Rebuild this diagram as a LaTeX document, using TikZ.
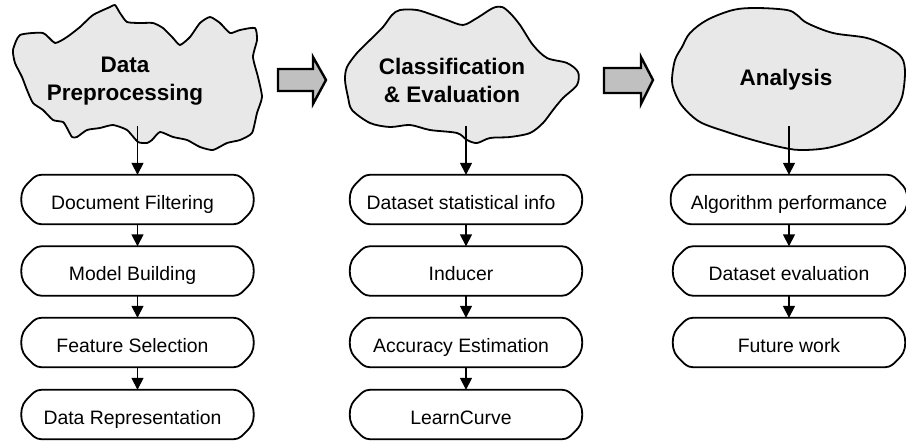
\documentclass[tikz,border=0pt]{standalone}
\usepackage{fontspec}
\setmainfont{Liberation Sans}
\usetikzlibrary{arrows.meta,calc}

\definecolor{blobgray}{HTML}{E8E8E8}
\definecolor{arrowgray}{HTML}{C0C0C0}

\tikzset{
  blob/.style={draw=black, line width=1.8pt, fill=blobgray, line join=round},
  title/.style={font=\fontsize{22.5}{28}\selectfont\bfseries, align=center, inner sep=0pt},
  stepbox/.style={font=\fontsize{19.4}{23}\selectfont, minimum width=192pt, minimum height=49pt,
    inner sep=0pt, text height=19pt, text depth=0pt},
  lefttext/.style={execute at begin node={\hspace*{-10pt}}},
  boxline/.style={draw=black, line width=1.8pt, line join=round},
  flow/.style={line width=1.6pt, -{Triangle[width=12pt,length=12pt]}},
  bigarrow/.style={draw=black, line width=2.4pt, fill=arrowgray, line join=miter},
}

% outline of a step box: straight top and bottom, bevelled bulging ends
\newcommand\boxoutline[1]{%
  \draw[boxline] (#1.north west) -- (#1.north east)
    .. controls ($(#1.north east)+(6,0)$) and ($(#1.north east)+(9,4)$) .. ($(#1.north east)+(13,8)$)
    .. controls ($(#1.north east)+(17,12)$) and ($(#1.east)+(20,-9)$) .. ($(#1.east)+(20,0)$)
    .. controls ($(#1.east)+(20,9)$) and ($(#1.south east)+(17,-12)$) .. ($(#1.south east)+(13,-8)$)
    .. controls ($(#1.south east)+(9,-4)$) and ($(#1.south east)+(6,0)$) .. (#1.south east)
    -- (#1.south west)
    .. controls ($(#1.south west)+(-6,0)$) and ($(#1.south west)+(-9,-4)$) .. ($(#1.south west)+(-13,-8)$)
    .. controls ($(#1.south west)+(-17,-12)$) and ($(#1.west)+(-20,9)$) .. ($(#1.west)+(-20,0)$)
    .. controls ($(#1.west)+(-20,-9)$) and ($(#1.north west)+(-17,12)$) .. ($(#1.north west)+(-13,8)$)
    .. controls ($(#1.north west)+(-9,4)$) and ($(#1.north west)+(-6,0)$) .. cycle;}

\begin{document}
\begin{tikzpicture}[x=1pt,y=-1pt]
\useasboundingbox (0,0) rectangle (906,442);

% --- stage blobs ---
\draw[blob] plot[smooth cycle, tension=0.35] coordinates {
  (13,50) (20,35) (43,33) (55,43) (67,37) (80,27) (93,15) (110,7) (115,5)
  (120,13) (127,22) (140,23) (153,23) (163,28) (173,38) (180,45) (190,37)
  (200,23) (210,17) (220,23) (230,33) (240,30) (255,28) (257,40) (253,57)
  (258,77) (262,97) (257,113) (252,133) (240,140) (227,143) (213,150)
  (200,147) (187,140) (173,137) (160,132) (152,140) (147,143) (138,142)
  (127,130) (113,125) (100,128) (87,130) (77,137) (72,137) (67,128)
  (63,122) (53,120) (43,110) (33,103) (27,90) (22,77) (15,63)};

\draw[blob] plot[smooth cycle, tension=0.5] coordinates {
  (400,10) (417,10) (433,15) (447,20) (463,25) (477,18) (493,8) (502,7)
  (510,13) (520,25) (533,45) (547,58) (567,63) (578,72) (577,85) (563,98)
  (553,110) (543,123) (530,133) (510,137) (490,138) (477,143) (467,140)
  (457,133) (430,130) (410,125) (390,127) (370,123) (352,110) (348,97)
  (345,80) (347,67) (357,53) (370,40) (383,27) (392,15)};

\draw[blob] plot[smooth cycle, tension=0.55] coordinates {
  (690,33) (707,20) (733,10) (757,8) (787,10) (797,15) (807,23) (833,33)
  (867,38) (890,48) (902,58) (905,73) (902,97) (893,113) (877,127)
  (853,140) (827,148) (800,150) (780,147) (753,140) (727,132) (700,122)
  (683,107) (675,93) (672,80) (675,60) (682,47)};

\node[title] (tA) at (125,81) {Data\\Preprocessing};
\node[title] (tB) at (452,80) {Classification\\\& Evaluation};
\node[title] (tC) at (786,80) {Analysis};

% --- block arrows between stages ---
\draw[bigarrow] (278,69) -- (313,69) -- (313,57) -- (326,80) -- (313,104)
  -- (313,91) -- (278,91) -- cycle;
\draw[bigarrow] (604,68) -- (641,68) -- (641,57) -- (653,80) -- (641,104)
  -- (641,93) -- (604,93) -- cycle;

% --- step boxes ---
\node[stepbox,lefttext] (a1) at (137.5,199.5) {Document Filtering};
\node[stepbox,lefttext] (a2) at (137.5,271)   {Model Building};
\node[stepbox,lefttext] (a3) at (137.5,342.5) {Feature Selection};
\node[stepbox,lefttext] (a4) at (137.5,414.5) {Data Representation};

\node[stepbox,lefttext] (b1) at (466,199.5) {Dataset statistical info};
\node[stepbox,lefttext] (b2) at (466,271)   {Inducer};
\node[stepbox,lefttext] (b3) at (466,342.5) {Accuracy Estimation};
\node[stepbox,lefttext] (b4) at (466,414.5) {LearnCurve};

\node[stepbox] (c1) at (789,199.5) {Algorithm performance};
\node[stepbox] (c2) at (789,271)   {Dataset evaluation};
\node[stepbox] (c3) at (789,342.5) {Future work};

\foreach \n in {a1,a2,a3,a4,b1,b2,b3,b4,c1,c2,c3} {\boxoutline{\n}}

% --- connectors ---
\coordinate (oA) at (137.5,126);
\coordinate (oB) at (466,126);
\coordinate (oC) at (789,126);

\draw[flow] (oA) -- (a1.north);
\draw[flow] (a1.south) -- (a2.north);
\draw[flow] (a2.south) -- (a3.north);
\draw[flow] (a3.south) -- (a4.north);

\draw[flow] (oB) -- (b1.north);
\draw[flow] (b1.south) -- (b2.north);
\draw[flow] (b2.south) -- (b3.north);
\draw[flow] (b3.south) -- (b4.north);

\draw[flow] (oC) -- (c1.north);
\draw[flow] (c1.south) -- (c2.north);
\draw[flow] (c2.south) -- (c3.north);
\end{tikzpicture}
\end{document}
